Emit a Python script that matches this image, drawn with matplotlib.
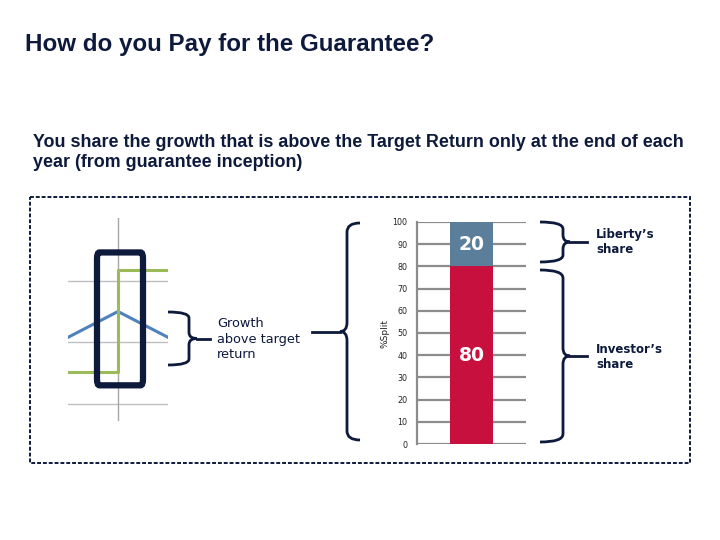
import matplotlib
matplotlib.use('Agg')
import matplotlib.pyplot as plt
from matplotlib.patches import Rectangle, FancyBboxPatch, PathPatch
from matplotlib.path import Path

# stacked bar data
segments = ['Investor', 'Liberty']
shares = [80, 20]
seg_colors = ['#C8103E', '#5B7F9A']
y_ticks = [0, 10, 20, 30, 40, 50, 60, 70, 80, 90, 100]

# little illustration on the left
blue_x = [-1, 0, 1]
blue_y = [0.08, 0.5, 0.08]
green_x = [-1, 0, 0, 1]
green_y = [-0.49, -0.49, 1.17, 1.17]
mini_grid = [-1, 0, 1]

navy = '#0D1A3C'

fig = plt.figure(figsize=(7.2, 5.4), dpi=100)
W, H = 720, 540


def fig_rect(x0, y0, x1, y1):
    # pixel box (y from top) -> figure fraction rect
    return [x0 / W, 1 - y1 / H, (x1 - x0) / W, (y1 - y0) / H]


# overlay in pixel coordinates for the slide decorations
deco = fig.add_axes([0, 0, 1, 1])
deco.set_xlim(0, W)
deco.set_ylim(H, 0)
deco.axis('off')

deco.add_patch(Rectangle((30, 197), 660, 266, fill=False, ec=navy, lw=1.4,
                         ls=(0, (2, 1))))


def brace(x_end, x_spine, x_cusp, x_tip, y0, y1, r=8):
    ym = (y0 + y1) / 2
    verts = [(x_end, y0), (x_spine, y0), (x_spine, y0 + r),
             (x_spine, ym - r), (x_spine, ym), (x_cusp, ym),
             (x_spine, ym), (x_spine, ym + r),
             (x_spine, y1 - r), (x_spine, y1), (x_end, y1)]
    codes = [Path.MOVETO, Path.CURVE3, Path.CURVE3,
             Path.LINETO, Path.CURVE3, Path.CURVE3,
             Path.CURVE3, Path.CURVE3,
             Path.LINETO, Path.CURVE3, Path.CURVE3]
    deco.add_patch(PathPatch(Path(verts, codes), fill=False, ec=navy, lw=2))
    deco.plot([x_cusp, x_tip], [ym, ym], color=navy, lw=2)


brace(168, 189, 197, 210, 312, 365, r=6)
brace(360, 347, 340, 312, 223, 440, r=9)
brace(540, 563, 570, 587, 222, 262, r=7)
brace(540, 563, 570, 587, 270, 442, r=8)

fig.text(25 / W, 1 - 44 / H, 'How do you Pay for the Guarantee?',
         fontsize=17.4, family='Liberation Sans', weight='bold', color=navy,
         va='center')
fig.text(33 / W, 1 - 152.5 / H,
         'You share the growth that is above the Target Return only at the end of each\n'
         'year (from guarantee inception)',
         fontsize=12.9, family='Liberation Sans', weight='bold', color=navy,
         va='center', linespacing=1.2)

fig.text(217 / W, 1 - 339 / H, 'Growth\nabove target\nreturn', fontsize=9.3,
         color=navy, va='center', linespacing=1.27)
fig.text(596 / W, 1 - 242 / H, 'Liberty\u2019s\nshare', fontsize=8.5,
         weight='bold', color=navy, va='center', linespacing=1.2)
fig.text(596 / W, 1 - 357 / H, 'Investor\u2019s\nshare', fontsize=8.5,
         weight='bold', color=navy, va='center', linespacing=1.2)

# mini illustration
mini = fig.add_axes(fig_rect(68, 218, 168, 421))
mini.set_xlim(-1, 1)
mini.set_ylim(-1.28, 2.02)
mini.axis('off')
for g in mini_grid:
    mini.plot([-1, 1], [g, g], color='#BFBFBF', lw=1, zorder=1)
mini.plot([0, 0], [-1.28, 2.02], color='#A6A6A6', lw=1, zorder=1)
mini.plot(blue_x, blue_y, color='#4F81BD', lw=2.2, zorder=2)
mini.plot(green_x, green_y, color='#9BBB59', lw=2.2, zorder=2)
mini.add_patch(FancyBboxPatch((-0.42, -0.70), 0.92, 2.16,
                              boxstyle='round,pad=0,rounding_size=0.05',
                              fill=False, ec=navy, lw=4.5, zorder=3,
                              mutation_aspect=2.0))

# stacked bar
ax = fig.add_axes(fig_rect(417, 222, 526, 444))
bottom = 0
for name, val, col in zip(segments, shares, seg_colors):
    ax.bar(0, val, width=0.394, bottom=bottom, color=col, zorder=3)
    ax.text(0, bottom + val / 2, str(val), ha='center', va='center',
            color='white', fontsize=13.5, weight='bold', zorder=4)
    bottom += val
ax.set_xlim(-0.5, 0.5)
ax.set_ylim(0, 100)
ax.set_yticks(y_ticks)
ax.set_xticks([])
ax.tick_params(axis='y', length=0, pad=7, labelsize=5.8, labelcolor='#222222')
ax.yaxis.grid(True, color='#8C8C8C', lw=1.6, zorder=0)
ax.set_axisbelow(True)
for s in ['top', 'right', 'bottom']:
    ax.spines[s].set_visible(False)
ax.spines['left'].set_color('#8C8C8C')
ax.spines['left'].set_linewidth(1.6)
ax.set_ylabel('%Split', fontsize=6.5, labelpad=2, color='#222222')

fig.savefig('out.png', dpi=100)
